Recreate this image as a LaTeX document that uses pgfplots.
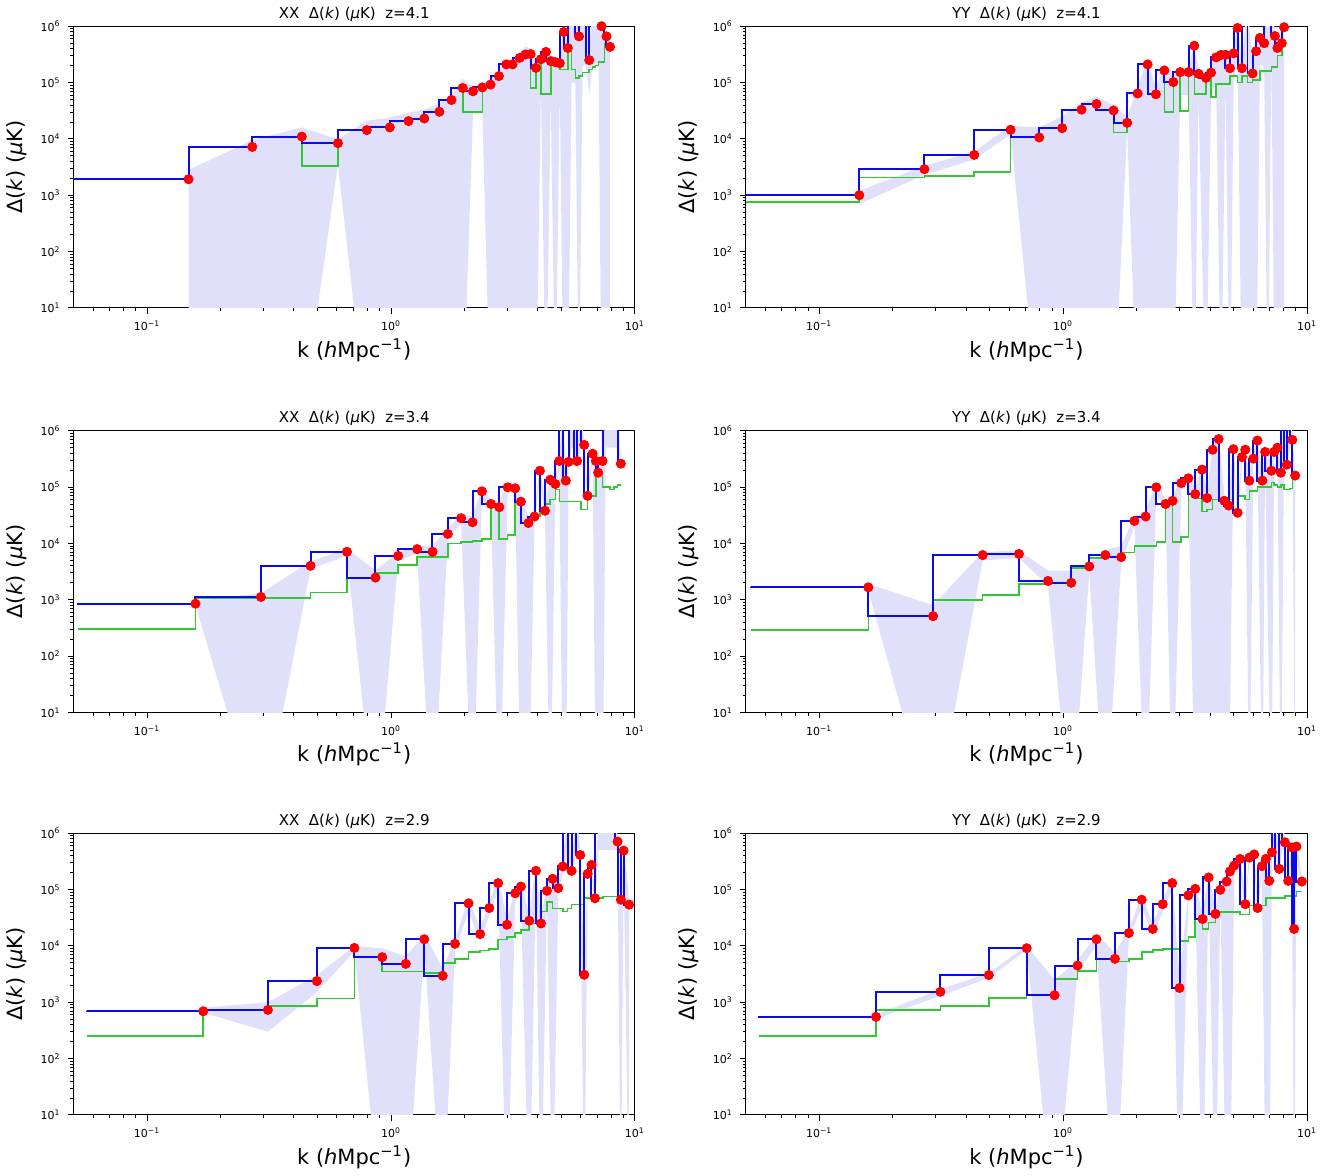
\documentclass[border=0pt]{standalone}
\usepackage{fontspec}
\setmainfont{DejaVu Sans}
\usepackage{pgfplots}
\usepackage{pgfplotstable}
\pgfplotsset{compat=1.18}
\usepgfplotslibrary{fillbetween}
\definecolor{bcol}{RGB}{10,10,235}
\definecolor{gcol}{RGB}{50,200,50}
\definecolor{rcol}{RGB}{255,0,0}
\definecolor{scol}{RGB}{224,224,250}

\pgfplotstableread{
k d g lo hi
0.05 1920 1920 1000 1000
0.148 1920 1920 0.1 2800
0.270 7200 7200 0.1 9500
0.431 11000 11000 0.1 16000
0.606 8400 3300 3500 9800
0.796 14300 14300 0.1 21000
0.989 16000 16000 0.1 24000
1.18 20700 20700 0.1 29000
1.37 23000 23000 0.1 33000
1.58 30300 30300 0.1 42000
1.77 49000 49000 0.1 62000
1.97 80000 80000 0.1 115000
2.17 70000 30000 30000 85000
2.37 82000 30000 30000 95000
2.56 92000 92000 0.1 115000
2.77 130000 130000 0.1 160000
2.97 210000 210000 0.1 250000
3.15 210000 210000 0.1 260000
3.37 274000 274000 0.1 330000
3.56 315000 315000 0.1 440000
3.74 320000 320000 0.1 400000
3.93 182000 80000 0.1 230000
4.12 260000 260000 80000 320000
4.32 350000 63000 0.1 420000
4.52 240000 63000 60000 300000
4.72 230000 230000 0.1 280000
4.92 220000 220000 80000 280000
5.11 790000 170000 0.1 1000000
5.31 410000 170000 0.1 500000
5.50 3000000 400000 100000 4000000
5.70 2000000 170000 100000 3000000
5.90 660000 120000 0.1 800000
6.10 2000000 130000 200000 3000000
6.30 3000000 150000 200000 4000000
6.50 250000 150000 60000 300000
6.70 2000000 170000 200000 3000000
6.90 3000000 190000 200000 4000000
7.10 2000000 200000 200000 3000000
7.30 1000000 230000 0.1 1300000
7.50 2000000 230000 0.1 3000000
7.65 660000 480000 0.1 800000
7.91 430000 430000 0.1 550000
}\tA

\pgfplotstableread{
k d g lo hi
0.05 1000 750 1000 1000
0.146 1000 750 700 1200
0.270 2900 2060 2300 3300
0.432 5200 2200 4300 6000
0.609 14500 2600 12000 17000
0.798 10600 10600 0.1 16000
0.991 15500 15500 0.1 25000
1.19 33000 33000 0.1 45000
1.37 41500 41500 0.1 56000
1.61 32000 32000 0.1 40000
1.83 19300 13000 15000 24000
2.02 64000 64000 0.1 85000
2.22 210000 210000 0.1 260000
2.40 62000 62000 0.1 80000
2.60 164000 164000 0.1 200000
2.83 102000 30000 0.1 130000
3.02 153000 153000 60000 190000
3.27 153000 31000 60000 190000
3.45 450000 450000 0.1 520000
3.59 143000 62000 60000 180000
3.85 121000 62000 0.1 150000
4.04 150000 150000 60000 190000
4.24 280000 56000 100000 330000
4.44 310000 95000 0.1 380000
4.63 310000 95000 100000 380000
4.83 180000 95000 0.1 230000
5.00 330000 130000 100000 400000
5.19 930000 130000 300000 1100000
5.41 180000 100000 0.1 230000
5.70 2500000 130000 0.1 3000000
5.98 145000 100000 0.1 180000
6.18 360000 110000 0.1 450000
6.41 620000 110000 200000 750000
6.67 500000 160000 200000 600000
6.90 2500000 160000 0.1 3000000
7.14 2000000 160000 300000 3000000
7.38 670000 190000 0.1 800000
7.56 410000 190000 0.1 500000
7.88 500000 300000 0.1 600000
8.05 960000 500000 0.1 1200000
}\tB

\pgfplotstableread{
k d g lo hi
0.052 870 305 1000 1000
0.158 850 305 800 950
0.293 1120 1050 0.1 1300
0.468 4000 1070 3500 4800
0.66 7100 1350 6000 8000
0.864 2470 2470 0.1 3300
1.07 6000 3000 5000 7000
1.28 7900 4100 6500 9000
1.48 7100 5800 0.1 9000
1.71 14700 5800 12000 18000
1.94 28000 10000 22000 33000
2.16 23700 10500 0.1 30000
2.36 84000 11000 60000 100000
2.57 50000 12000 40000 60000
2.78 44000 44000 0.1 55000
3.01 99000 12000 80000 120000
3.23 95000 14000 80000 120000
3.41 55000 55000 0.1 70000
3.66 23000 23000 0.1 30000
3.88 30000 26000 24000 37000
4.08 195000 30000 150000 240000
4.28 38000 38000 30000 47000
4.50 135000 50000 0.1 165000
4.72 113000 60000 90000 140000
4.90 290000 90000 200000 350000
5.07 2000000 55000 0.1 2500000
5.21 130000 55000 0.1 160000
5.35 280000 55000 200000 330000
5.50 2000000 55000 500000 2500000
5.65 2000000 55000 500000 2500000
5.79 290000 55000 200000 350000
6.00 2000000 55000 500000 2500000
6.20 560000 40000 400000 650000
6.40 70000 40000 50000 90000
6.71 390000 70000 300000 460000
6.92 290000 70000 0.1 350000
7.07 180000 180000 0.1 220000
7.37 290000 180000 0.1 350000
7.60 2000000 100000 500000 2500000
7.90 2000000 100000 500000 2500000
8.20 2000000 90000 500000 2500000
8.50 2000000 100000 500000 2500000
8.76 260000 110000 200000 300000
}\tC

\pgfplotstableread{
k d g lo hi
0.0525 1680 290 1000 1000
0.159 1660 290 1500 1900
0.293 510 510 0.1 800
0.468 6200 980 5000 7000
0.659 6500 1200 5500 7500
0.867 2150 1900 1800 3300
1.08 2000 2000 0.1 3300
1.28 3900 3700 3000 4500
1.49 6200 5500 0.1 7500
1.73 5700 5700 4500 9000
1.96 25000 6900 20000 30000
2.18 30000 9000 0.1 38000
2.41 99000 9000 80000 120000
2.63 50000 10500 40000 60000
2.81 57000 57000 0.1 70000
3.05 118000 10500 90000 140000
3.26 143000 13000 110000 170000
3.48 75000 75000 0.1 95000
3.71 204000 63000 0.1 250000
3.89 64000 37000 0.1 80000
4.10 460000 40000 0.1 550000
4.34 710000 60000 0.1 850000
4.58 57000 57000 0.1 70000
4.77 47000 47000 0.1 60000
4.99 470000 60000 300000 560000
5.19 35000 35000 25000 45000
5.41 340000 70000 250000 400000
5.58 460000 70000 350000 550000
5.80 130000 60000 0.1 160000
6.02 320000 85000 250000 400000
6.26 670000 85000 500000 800000
6.56 130000 100000 0.1 160000
6.73 420000 100000 300000 500000
7.14 195000 100000 0.1 250000
7.33 420000 120000 300000 500000
7.56 500000 110000 400000 600000
7.81 180000 100000 0.1 230000
8.05 2000000 110000 500000 2500000
8.26 250000 90000 200000 300000
8.50 2000000 90000 500000 2500000
8.70 690000 95000 500000 800000
8.94 160000 150000 0.1 200000
}\tD

\pgfplotstableread{
k d g lo hi
0.0566 710 250 1000 1000
0.170 690 250 650 800
0.313 730 710 300 1000
0.497 2370 860 1500 3000
0.708 9200 1170 8000 10000
0.921 6300 6300 0.1 9000
1.15 4800 3500 0.1 6500
1.37 13100 3500 10000 16000
1.63 2950 3300 0.1 4000
1.83 10900 5000 8000 13000
2.08 57000 5900 40000 70000
2.32 16200 7800 12000 20000
2.53 47000 8300 35000 60000
2.75 130000 8900 100000 160000
2.99 23700 13000 0.1 30000
3.23 86000 14500 60000 100000
3.41 113000 17000 80000 140000
3.69 28000 19000 0.1 35000
3.93 215000 25000 150000 260000
4.12 25000 25000 0.1 32000
4.36 95000 41000 70000 120000
4.60 155000 60000 0.1 190000
4.85 106000 46000 80000 130000
5.06 257000 46000 200000 300000
5.30 2000000 41000 500000 2500000
5.50 215000 46000 150000 260000
5.75 2000000 54000 500000 2500000
5.97 410000 54000 300000 500000
6.20 3070 54000 0.1 4000
6.40 190000 70000 150000 230000
6.64 274000 70000 200000 330000
6.86 70000 70000 50000 90000
7.10 2000000 70000 500000 2500000
7.40 2000000 70000 500000 2500000
7.70 2000000 75000 500000 2500000
8.00 2000000 75000 500000 2500000
8.25 2000000 75000 500000 2500000
8.49 710000 75000 500000 900000
8.76 66000 66000 0.1 80000
8.99 490000 75000 300000 600000
9.47 54000 54000 0.1 70000
}\tE

\pgfplotstableread{
k d g lo hi
0.0566 570 250 1000 1000
0.171 550 250 500 600
0.314 1530 720 1300 1700
0.496 3030 860 2700 3300
0.709 9100 1200 8500 10000
0.922 1330 1330 0.1 2500
1.146 4470 2600 3500 5500
1.37 13100 3600 10000 16000
1.63 5900 5800 0.1 7500
1.86 16900 5300 13000 20000
2.10 66000 5900 50000 80000
2.33 20000 7800 15000 25000
2.56 55000 8400 40000 65000
2.80 130000 8900 100000 160000
3.00 1790 8900 0.1 2500
3.26 79000 12300 60000 95000
3.48 103000 14500 80000 125000
3.73 30000 30000 0.1 38000
3.95 164000 20000 120000 200000
4.21 37000 26000 0.1 45000
4.41 99000 40000 70000 120000
4.68 139000 40000 0.1 170000
4.83 210000 40000 0.1 250000
5.03 267000 40000 200000 320000
5.31 350000 40000 250000 420000
5.58 55000 36000 40000 70000
5.80 370000 36000 300000 450000
6.07 420000 52000 300000 500000
6.27 47000 47000 35000 60000
6.53 260000 52000 200000 320000
6.78 350000 52000 0.1 420000
7.00 143000 70000 0.1 180000
7.18 460000 70000 350000 550000
7.40 2000000 70000 500000 2500000
7.69 233000 70000 180000 280000
7.90 2000000 70000 500000 2500000
8.11 690000 70000 500000 800000
8.37 143000 76000 100000 180000
8.66 560000 76000 400000 650000
8.85 20000 20000 0.1 26000
9.05 580000 76000 400000 700000
9.52 139000 93000 100000 170000
}\tF

\pgfplotsset{
  mypanel/.style={
    scale only axis, width=281pt, height=141pt,
    anchor=north west,
    xmin=0.05, xmax=10, ymin=10, ymax=1000000,
    xtick={0.1,1,10},
    xticklabels={10\textsuperscript{−1},10\textsuperscript{0},10\textsuperscript{1}},
    ytick={10,100,1000,10000,100000,1000000},
    yticklabels={10\textsuperscript{1},10\textsuperscript{2},10\textsuperscript{3},10\textsuperscript{4},10\textsuperscript{5},10\textsuperscript{6}},
    minor xtick={0.06,0.07,0.08,0.09,0.2,0.3,0.4,0.5,0.6,0.7,0.8,0.9,2,3,4,5,6,7,8,9},
    minor ytick={20,30,40,50,60,70,80,90,200,300,400,500,600,700,800,900,2000,3000,4000,5000,6000,7000,8000,9000,20000,30000,40000,50000,60000,70000,80000,90000,200000,300000,400000,500000,600000,700000,800000,900000},
    tick align=outside, tick pos=left,
    major tick length=3pt, minor tick length=1.6pt,
    every tick/.style={black, line width=0.4pt},
    tick label style={font=\fontsize{5.5}{6}\selectfont},
    axis line style={line width=0.5pt},
    xlabel={k (\textit{h}Mpc\textsuperscript{−1})},
    ylabel={Δ(\textit{k}) (\textit{μ}K)},
    label style={font=\fontsize{10.5}{12}\selectfont},
    xlabel style={yshift=3pt},
    title style={font=\fontsize{7.5}{9}\selectfont, yshift=-7pt},
  },
  myshd/.style={draw=none, skip coords between index={0}{1}},
  mydots/.style={only marks, mark=*, mark size=2.3pt, color=rcol, skip coords between index={0}{1}},
  mygline/.style={const plot mark right, color=gcol, line width=0.8pt, mark=none},
  mybline/.style={const plot mark right, color=bcol, line width=1pt, mark=none},
}

\begin{document}
\begin{tikzpicture}

\begin{loglogaxis}[mypanel, at={(36pt,-12.5pt)}, title={XX\ \ Δ(\textit{k}) (\textit{μ}K)\ \ z=4.1}]
\addplot[myshd, name path=Ahi] table[x=k,y=hi]{\tA};
\addplot[myshd, name path=Alo] table[x=k,y=lo]{\tA};
\addplot[fill=scol, draw=none] fill between[of=Ahi and Alo];
\addplot[mydots] table[x=k,y=d]{\tA};
\addplot[mygline] table[x=k,y=g]{\tA};
\addplot[mybline] table[x=k,y=d]{\tA};
\end{loglogaxis}

\begin{loglogaxis}[mypanel, at={(372.5pt,-12.5pt)}, title={YY\ \ Δ(\textit{k}) (\textit{μ}K)\ \ z=4.1}]
\addplot[myshd, name path=Bhi] table[x=k,y=hi]{\tB};
\addplot[myshd, name path=Blo] table[x=k,y=lo]{\tB};
\addplot[fill=scol, draw=none] fill between[of=Bhi and Blo];
\addplot[mydots] table[x=k,y=d]{\tB};
\addplot[mygline] table[x=k,y=g]{\tB};
\addplot[mybline] table[x=k,y=d]{\tB};
\end{loglogaxis}

\begin{loglogaxis}[mypanel, at={(36pt,-215pt)}, title={XX\ \ Δ(\textit{k}) (\textit{μ}K)\ \ z=3.4}]
\addplot[myshd, name path=Chi] table[x=k,y=hi]{\tC};
\addplot[myshd, name path=Clo] table[x=k,y=lo]{\tC};
\addplot[fill=scol, draw=none] fill between[of=Chi and Clo];
\addplot[mydots] table[x=k,y=d]{\tC};
\addplot[mygline] table[x=k,y=g]{\tC};
\addplot[mybline] table[x=k,y=d]{\tC};
\end{loglogaxis}

\begin{loglogaxis}[mypanel, at={(372.5pt,-215pt)}, title={YY\ \ Δ(\textit{k}) (\textit{μ}K)\ \ z=3.4}]
\addplot[myshd, name path=Dhi] table[x=k,y=hi]{\tD};
\addplot[myshd, name path=Dlo] table[x=k,y=lo]{\tD};
\addplot[fill=scol, draw=none] fill between[of=Dhi and Dlo];
\addplot[mydots] table[x=k,y=d]{\tD};
\addplot[mygline] table[x=k,y=g]{\tD};
\addplot[mybline] table[x=k,y=d]{\tD};
\end{loglogaxis}

\begin{loglogaxis}[mypanel, at={(36pt,-416.5pt)}, title={XX\ \ Δ(\textit{k}) (\textit{μ}K)\ \ z=2.9}]
\addplot[myshd, name path=Ehi] table[x=k,y=hi]{\tE};
\addplot[myshd, name path=Elo] table[x=k,y=lo]{\tE};
\addplot[fill=scol, draw=none] fill between[of=Ehi and Elo];
\addplot[mydots] table[x=k,y=d]{\tE};
\addplot[mygline] table[x=k,y=g]{\tE};
\addplot[mybline] table[x=k,y=d]{\tE};
\end{loglogaxis}

\begin{loglogaxis}[mypanel, at={(372.5pt,-416.5pt)}, title={YY\ \ Δ(\textit{k}) (\textit{μ}K)\ \ z=2.9}]
\addplot[myshd, name path=Fhi] table[x=k,y=hi]{\tF};
\addplot[myshd, name path=Flo] table[x=k,y=lo]{\tF};
\addplot[fill=scol, draw=none] fill between[of=Fhi and Flo];
\addplot[mydots] table[x=k,y=d]{\tF};
\addplot[mygline] table[x=k,y=g]{\tF};
\addplot[mybline] table[x=k,y=d]{\tF};
\end{loglogaxis}

\path (0,0) rectangle (671pt,-588pt);
\end{tikzpicture}
\end{document}
